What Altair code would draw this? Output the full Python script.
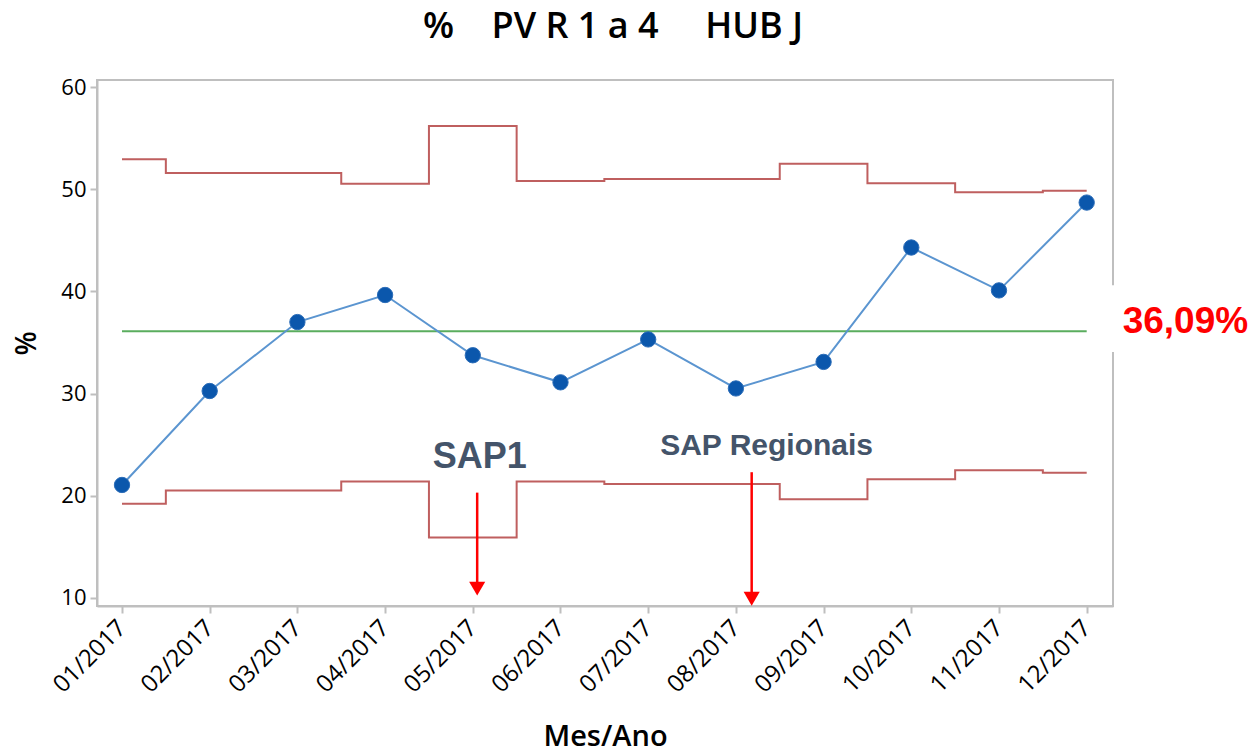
import altair as alt
import pandas as pd

months = ["01/2017", "02/2017", "03/2017", "04/2017", "05/2017", "06/2017",
          "07/2017", "08/2017", "09/2017", "10/2017", "11/2017", "12/2017"]
pct = [21.05, 30.25, 37.0, 39.65, 33.75, 31.1, 35.3, 30.5, 33.1, 44.3, 40.1, 48.7]
ucl = [52.95, 51.6, 51.6, 50.55, 56.2, 50.8, 51.0, 51.0, 52.5, 50.6, 49.7, 49.85]
lcl = [19.2, 20.5, 20.5, 21.4, 15.9, 21.4, 21.15, 21.15, 19.65, 21.6, 22.5, 22.25]
center = 36.09
center_label = "36,09%"

# annotations (x in month index units, y in %)
ann_text = ["SAP1", "SAP Regionais"]
ann_x = [4.08, 7.35]
ann_y = [22.7, 24.0]
ann_size = [36, 30]
arrow_x = [4.05, 7.18]
arrow_top = [20.3, 22.3]
arrow_tip = [10.9, 9.9]

XDOM = [-0.285, 11.3]
YDOM = [9.2, 60.7]

idx = list(range(len(months)))
df = pd.DataFrame({"i": idx, "m": months, "pct": pct, "ucl": ucl, "lcl": lcl})

label_expr = "[" + ",".join("'%s'" % m for m in months) + "][datum.value]"

xenc = alt.X("i:Q", scale=alt.Scale(domain=XDOM, nice=False, zero=False),
             axis=alt.Axis(values=idx, labelExpr=label_expr, labelAngle=-45,
                           labelAlign="right", labelBaseline="middle",
                           labelFontSize=24, labelFont="Open Sans", labelColor="#000",
                           labelPadding=11, tickSize=7, tickColor="#bfbfbf",
                           domainColor="#bfbfbf", domainWidth=2, tickWidth=2,
                           grid=False, title="Mes/Ano", titleFont="Open Sans",
                           titleFontSize=29, titleFontWeight=600, titleColor="#000",
                           titlePadding=26))
yenc_axis = alt.Axis(values=[10, 20, 30, 40, 50, 60], labelFontSize=22,
                     labelFont="Open Sans", labelColor="#000", labelPadding=4,
                     tickSize=7, tickColor="#bfbfbf", tickWidth=2,
                     domainColor="#bfbfbf", domainWidth=2, grid=False,
                     title="%", titleFont="Open Sans", titleFontSize=28,
                     titleFontWeight=600, titleColor="#000", titlePadding=19)
yscale = alt.Scale(domain=YDOM, nice=False, zero=False)

base = alt.Chart(df)

ucl_line = base.mark_line(interpolate="step", color="#bf5f5f", strokeWidth=2).encode(
    x=xenc, y=alt.Y("ucl:Q", scale=yscale, axis=yenc_axis))
lcl_line = base.mark_line(interpolate="step", color="#bf5f5f", strokeWidth=2).encode(
    x="i:Q", y="lcl:Q")

cdf = pd.DataFrame({"x": [0, 11], "y": [center, center]})
center_line = alt.Chart(cdf).mark_line(color="#5aad5e", strokeWidth=2).encode(
    x="x:Q", y="y:Q")

pline = base.mark_line(color="#5b95d0", strokeWidth=2).encode(x="i:Q", y="pct:Q")
pts = base.mark_circle(size=235, color="#0b57ac", opacity=1,
                       stroke="#2a6cb8", strokeWidth=1).encode(x="i:Q", y="pct:Q")

adf = pd.DataFrame({"x": arrow_x, "top": arrow_top, "tip": arrow_tip})
arrows = alt.Chart(adf).mark_rule(color="#ff0000", strokeWidth=2.5).encode(
    x="x:Q", y="top:Q", y2="tip:Q")
heads = alt.Chart(adf).mark_point(shape="triangle-down", filled=True, size=260,
                                  color="#ff0000", opacity=1, clip=False).encode(
    x="x:Q", y="tip:Q")

tdf = pd.DataFrame({"t": ann_text, "x": ann_x, "y": ann_y, "s": ann_size})
texts = alt.Chart(tdf).mark_text(font="Liberation Sans", fontWeight="bold",
                                 color="#44546a", align="center",
                                 baseline="alphabetic").encode(
    x="x:Q", y="y:Q", text="t:N", size=alt.Size("s:Q", scale=None, legend=None))

gap = alt.Chart(pd.DataFrame({"x": [11.2], "x2": [11.4], "y": [34.07], "y2": [40.6]})).mark_rect(
    color="white", clip=False).encode(x="x:Q", x2="x2:Q", y="y:Q", y2="y2:Q")
clabel = alt.Chart(pd.DataFrame({"x": [11.41], "y": [35.9], "t": [center_label]})).mark_text(
    font="Liberation Sans", fontWeight="bold", fontSize=37, color="#ff0000",
    align="left", baseline="alphabetic", clip=False).encode(x="x:Q", y="y:Q", text="t:N")

chart = alt.layer(ucl_line, lcl_line, center_line, pline, pts, arrows, heads, texts,
                  gap, clabel).properties(
    width=1016, height=526,
    title=alt.TitleParams("%\u00a0\u00a0\u00a0\u00a0PV R 1 a 4\u00a0\u00a0\u00a0\u00a0\u00a0HUB J",
                          font="Open Sans", fontSize=36, fontWeight=600,
                          color="#000", anchor="middle", dx=8, offset=30),
    autosize=alt.AutoSizeParams(type="none"),
    padding={"left": 89, "top": 72, "right": 136, "bottom": 142},
).configure_view(stroke="#bfbfbf", strokeWidth=2)

chart.save("out.html", embed_options={"renderer": "svg", "actions": False})
